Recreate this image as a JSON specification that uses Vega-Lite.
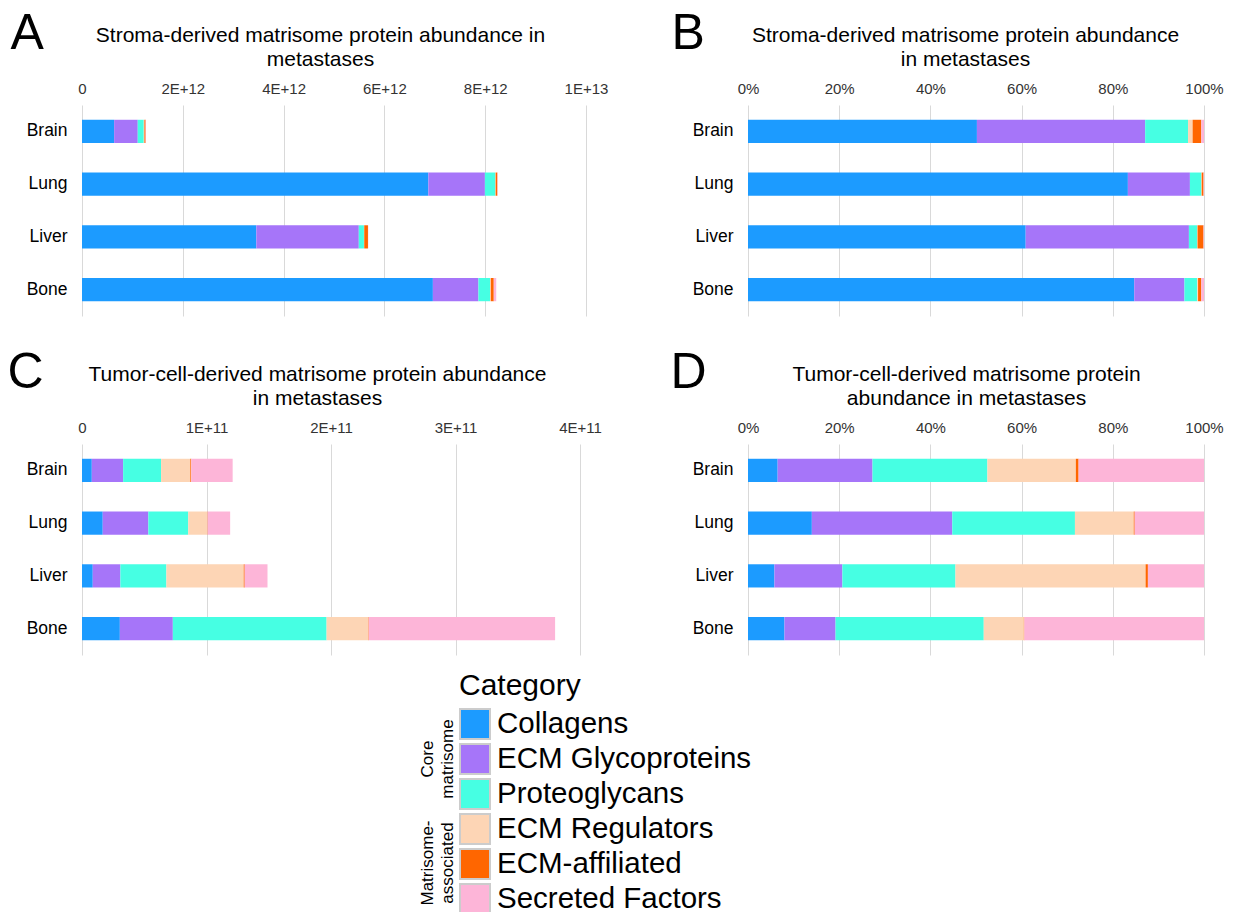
{
  "$schema": "https://vega.github.io/schema/vega-lite/v6.json",
  "padding": {"left": 7, "top": 8, "right": 5, "bottom": 0},
  "background": "white",
  "datasets": {
    "stroma": [
      {"site": "Brain", "category": "Collagens", "value": 637500000000},
      {"site": "Brain", "category": "ECM Glycoproteins", "value": 468600000000},
      {"site": "Brain", "category": "Proteoglycans", "value": 119400000000},
      {"site": "Brain", "category": "ECM Regulators", "value": 12700000000},
      {"site": "Brain", "category": "ECM-affiliated", "value": 24100000000},
      {"site": "Brain", "category": "Secreted Factors", "value": 7600000000},
      {"site": "Lung", "category": "Collagens", "value": 6872000000000},
      {"site": "Lung", "category": "ECM Glycoproteins", "value": 1122000000000},
      {"site": "Lung", "category": "Proteoglycans", "value": 206000000000},
      {"site": "Lung", "category": "ECM Regulators", "value": 8000000000},
      {"site": "Lung", "category": "ECM-affiliated", "value": 33000000000},
      {"site": "Lung", "category": "Secreted Factors", "value": 8000000000},
      {"site": "Liver", "category": "Collagens", "value": 3459000000000},
      {"site": "Liver", "category": "ECM Glycoproteins", "value": 2033000000000},
      {"site": "Liver", "category": "Proteoglycans", "value": 102000000000},
      {"site": "Liver", "category": "ECM Regulators", "value": 6000000000},
      {"site": "Liver", "category": "ECM-affiliated", "value": 74000000000},
      {"site": "Liver", "category": "Secreted Factors", "value": 6000000000},
      {"site": "Bone", "category": "Collagens", "value": 6962000000000},
      {"site": "Bone", "category": "ECM Glycoproteins", "value": 904000000000},
      {"site": "Bone", "category": "Proteoglycans", "value": 230000000000},
      {"site": "Bone", "category": "ECM Regulators", "value": 16000000000},
      {"site": "Bone", "category": "ECM-affiliated", "value": 58000000000},
      {"site": "Bone", "category": "Secreted Factors", "value": 49000000000}
    ],
    "tumor": [
      {"site": "Brain", "category": "Collagens", "value": 7870000000},
      {"site": "Brain", "category": "ECM Glycoproteins", "value": 25170000000},
      {"site": "Brain", "category": "Proteoglycans", "value": 30490000000},
      {"site": "Brain", "category": "ECM Regulators", "value": 23470000000},
      {"site": "Brain", "category": "ECM-affiliated", "value": 730000000},
      {"site": "Brain", "category": "Secreted Factors", "value": 33280000000},
      {"site": "Lung", "category": "Collagens", "value": 16660000000},
      {"site": "Lung", "category": "ECM Glycoproteins", "value": 36650000000},
      {"site": "Lung", "category": "Proteoglycans", "value": 32010000000},
      {"site": "Lung", "category": "ECM Regulators", "value": 15350000000},
      {"site": "Lung", "category": "ECM-affiliated", "value": 240000000},
      {"site": "Lung", "category": "Secreted Factors", "value": 18090000000},
      {"site": "Liver", "category": "Collagens", "value": 8640000000},
      {"site": "Liver", "category": "ECM Glycoproteins", "value": 22200000000},
      {"site": "Liver", "category": "Proteoglycans", "value": 36950000000},
      {"site": "Liver", "category": "ECM Regulators", "value": 62130000000},
      {"site": "Liver", "category": "ECM-affiliated", "value": 750000000},
      {"site": "Liver", "category": "Secreted Factors", "value": 18330000000},
      {"site": "Bone", "category": "Collagens", "value": 30400000000},
      {"site": "Bone", "category": "ECM Glycoproteins", "value": 42560000000},
      {"site": "Bone", "category": "Proteoglycans", "value": 123500000000},
      {"site": "Bone", "category": "ECM Regulators", "value": 33440000000},
      {"site": "Bone", "category": "ECM-affiliated", "value": 380000000},
      {"site": "Bone", "category": "Secreted Factors", "value": 149720000000}
    ],
    "groups": [
      {"label": "Core\nmatrisome", "anchor": "ECM Glycoproteins"},
      {"label": "Matrisome-\nassociated", "anchor": "ECM-affiliated"}
    ]
  },
  "config": {
    "font": "Liberation Sans",
    "view": {"stroke": null},
    "axisX": {"grid": true, "gridColor": "#d9d9d9", "gridWidth": 1, "domain": false, "ticks": false, "labelFlush": false, "labelFontSize": 15, "labelColor": "#333333", "labelPadding": 9, "titleFontSize": 21, "titleFontWeight": "normal", "titleColor": "#000000", "titleLineHeight": 24, "titlePadding": 12},
    "axisY": {"grid": false, "domain": false, "ticks": false, "labelFontSize": 17.5, "labelColor": "#000000", "labelPadding": 15, "titleAngle": 0, "titleAlign": "left", "titleBaseline": "alphabetic", "titleFontSize": 50, "titleFontWeight": "normal", "titleColor": "#000000", "titleY": -57},
    "legend": {"orient": "none", "legendX": 377, "legendY": 566, "padding": 0, "titleFontSize": 30, "titleFontWeight": "normal", "titleColor": "#000000", "titlePadding": 7, "labelFontSize": 29.5, "labelColor": "#000000", "labelOffset": 6, "labelLimit": 500, "symbolType": "square", "symbolSize": 900, "symbolStrokeWidth": 2, "symbolStrokeColor": "#cccccc", "rowPadding": -4}
  },
  "vconcat": [
    {
      "vconcat": [
        {
          "hconcat": [
            {
              "width": 504, "height": 211,
              "data": {"name": "stroma"},
              "transform": [{"calculate": "indexof(['Collagens','ECM Glycoproteins','Proteoglycans','ECM Regulators','ECM-affiliated','Secreted Factors'], datum.category)", "as": "catOrder"}],
              "mark": {"type": "bar"},
              "encoding": {
                "y": {"field": "site", "type": "nominal", "sort": ["Brain", "Lung", "Liver", "Bone"], "scale": {"paddingInner": 0.56, "paddingOuter": 0.28}, "axis": {"title": "A", "titleX": -72}},
                "x": {"field": "value", "type": "quantitative", "stack": "zero", "scale": {"domain": [0, 10000000000000], "nice": false},
                  "axis": {"orient": "top", "values": [0, 2000000000000, 4000000000000, 6000000000000, 8000000000000, 10000000000000], "labelExpr": "datum.value == 0 ? '0' : upper(format(datum.value, '.0e'))", "title": ["Stroma-derived matrisome protein abundance in", "metastases"], "titleX": 238}},
                "order": {"field": "catOrder", "type": "quantitative"},
                "color": {"field": "category", "type": "nominal", "title": "Category", "sort": ["Collagens", "ECM Glycoproteins", "Proteoglycans", "ECM Regulators", "ECM-affiliated", "Secreted Factors"],
                  "scale": {"domain": ["Collagens", "ECM Glycoproteins", "Proteoglycans", "ECM Regulators", "ECM-affiliated", "Secreted Factors"], "range": ["#1c9bff", "#a675f9", "#46ffe3", "#fdd5b5", "#ff6600", "#fdb5d8"]}}
              }
            },
            {
              "width": 456, "height": 211,
              "data": {"name": "stroma"},
              "transform": [{"calculate": "indexof(['Collagens','ECM Glycoproteins','Proteoglycans','ECM Regulators','ECM-affiliated','Secreted Factors'], datum.category)", "as": "catOrder"}],
              "mark": {"type": "bar"},
              "encoding": {
                "y": {"field": "site", "type": "nominal", "sort": ["Brain", "Lung", "Liver", "Bone"], "scale": {"paddingInner": 0.56, "paddingOuter": 0.28}, "axis": {"title": "B", "titleX": -77}},
                "x": {"field": "value", "type": "quantitative", "stack": "normalize", "scale": {"domain": [0, 1], "nice": false},
                  "axis": {"orient": "top", "values": [0, 0.2, 0.4, 0.6, 0.8, 1], "format": ".0%", "title": ["Stroma-derived matrisome protein abundance", "in metastases"], "titleX": 217}},
                "order": {"field": "catOrder", "type": "quantitative"},
                "color": {"field": "category", "type": "nominal", "title": "Category", "sort": ["Collagens", "ECM Glycoproteins", "Proteoglycans", "ECM Regulators", "ECM-affiliated", "Secreted Factors"],
                  "scale": {"domain": ["Collagens", "ECM Glycoproteins", "Proteoglycans", "ECM Regulators", "ECM-affiliated", "Secreted Factors"], "range": ["#1c9bff", "#a675f9", "#46ffe3", "#fdd5b5", "#ff6600", "#fdb5d8"]}}
              }
            }
          ],
          "spacing": 63
        },
        {
          "hconcat": [
            {
              "width": 498, "height": 211,
              "data": {"name": "tumor"},
              "transform": [{"calculate": "indexof(['Collagens','ECM Glycoproteins','Proteoglycans','ECM Regulators','ECM-affiliated','Secreted Factors'], datum.category)", "as": "catOrder"}],
              "mark": {"type": "bar"},
              "encoding": {
                "y": {"field": "site", "type": "nominal", "sort": ["Brain", "Lung", "Liver", "Bone"], "scale": {"paddingInner": 0.56, "paddingOuter": 0.28}, "axis": {"title": "C", "titleX": -75}},
                "x": {"field": "value", "type": "quantitative", "stack": "zero", "scale": {"domain": [0, 400000000000], "nice": false},
                  "axis": {"orient": "top", "values": [0, 100000000000, 200000000000, 300000000000, 400000000000], "labelExpr": "datum.value == 0 ? '0' : upper(format(datum.value, '.0e'))", "title": ["Tumor-cell-derived matrisome protein abundance", "in metastases"], "titleX": 235}},
                "order": {"field": "catOrder", "type": "quantitative"},
                "color": {"field": "category", "type": "nominal", "title": "Category", "sort": ["Collagens", "ECM Glycoproteins", "Proteoglycans", "ECM Regulators", "ECM-affiliated", "Secreted Factors"],
                  "scale": {"domain": ["Collagens", "ECM Glycoproteins", "Proteoglycans", "ECM Regulators", "ECM-affiliated", "Secreted Factors"], "range": ["#1c9bff", "#a675f9", "#46ffe3", "#fdd5b5", "#ff6600", "#fdb5d8"]}}
              }
            },
            {
              "width": 456, "height": 211,
              "data": {"name": "tumor"},
              "transform": [{"calculate": "indexof(['Collagens','ECM Glycoproteins','Proteoglycans','ECM Regulators','ECM-affiliated','Secreted Factors'], datum.category)", "as": "catOrder"}],
              "mark": {"type": "bar"},
              "encoding": {
                "y": {"field": "site", "type": "nominal", "sort": ["Brain", "Lung", "Liver", "Bone"], "scale": {"paddingInner": 0.56, "paddingOuter": 0.28}, "axis": {"title": "D", "titleX": -78}},
                "x": {"field": "value", "type": "quantitative", "stack": "normalize", "scale": {"domain": [0, 1], "nice": false},
                  "axis": {"orient": "top", "values": [0, 0.2, 0.4, 0.6, 0.8, 1], "format": ".0%", "title": ["Tumor-cell-derived matrisome protein", "abundance in metastases"], "titleX": 218}},
                "order": {"field": "catOrder", "type": "quantitative"},
                "color": {"field": "category", "type": "nominal", "title": "Category", "sort": ["Collagens", "ECM Glycoproteins", "Proteoglycans", "ECM Regulators", "ECM-affiliated", "Secreted Factors"],
                  "scale": {"domain": ["Collagens", "ECM Glycoproteins", "Proteoglycans", "ECM Regulators", "ECM-affiliated", "Secreted Factors"], "range": ["#1c9bff", "#a675f9", "#46ffe3", "#fdd5b5", "#ff6600", "#fdb5d8"]}}
              }
            }
          ],
          "spacing": 68
        }
      ],
      "spacing": 31
    },
    {
      "width": 355, "height": 208,
      "data": {"name": "groups"},
      "mark": {"type": "text", "angle": 270, "x": "width", "align": "center", "baseline": "bottom", "lineBreak": "\n", "fontSize": 17, "lineHeight": 20, "color": "#000000"},
      "encoding": {
        "y": {"field": "anchor", "type": "nominal", "scale": {"domain": ["Collagens", "ECM Glycoproteins", "Proteoglycans", "ECM Regulators", "ECM-affiliated", "Secreted Factors"], "paddingInner": 0, "paddingOuter": 0}, "axis": null},
        "text": {"field": "label"}
      }
    }
  ],
  "spacing": 52
}
